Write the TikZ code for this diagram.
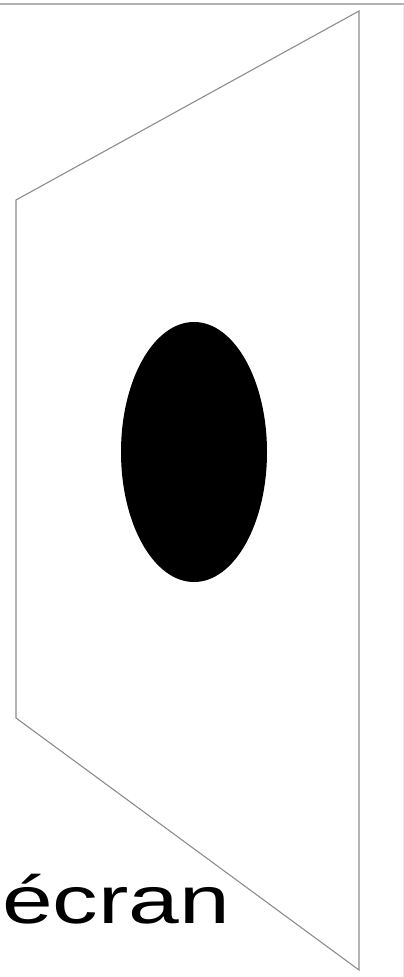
\documentclass[tikz,border=0pt]{standalone}
\usepackage{fontspec}
\setmainfont{Liberation Sans}
\usepackage{tikz}
\usetikzlibrary{positioning}
\tikzstyle{frame} = [draw=black!45, line width=1.1pt, line join=miter]
\tikzstyle{hole} = [fill=black]
\tikzstyle{label} = [font=\fontsize{67}{67}\selectfont, inner sep=0pt, anchor=base west, xscale=1.36, transform shape]

\begin{document}
\begin{tikzpicture}[x=1pt, y=-1pt]
        \useasboundingbox (0,0) rectangle (404,977);
        % Window border
        \draw [black!30, line width=2pt] (0,3.5) -- (404,3.5);
        \draw [black!8, line width=1pt] (403,5) -- (403,977);

        % Screen
        \coordinate (tr) at (359,11);
        \coordinate (br) at (359,970);
        \coordinate (tl) at (16,200);
        \coordinate (bl) at (16,718);
        \draw [frame] (tl) -- (tr) -- (br) -- (bl) -- cycle;

        % Hole
        \fill [hole] (194,452) ellipse [x radius=73, y radius=130];

        % Labels
        \node [label] (ecran) at (2,923) {écran};
    \end{tikzpicture}
\end{document}
